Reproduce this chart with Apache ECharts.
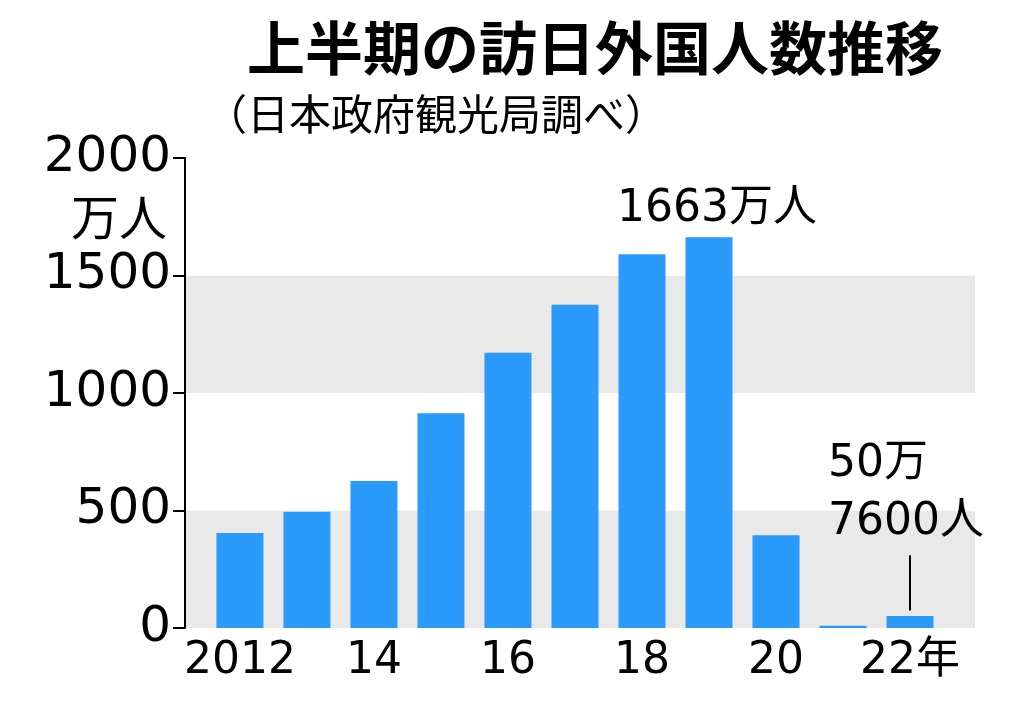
<!DOCTYPE html>
<html>
<head>
<meta charset="utf-8">
<script src="https://cdn.jsdelivr.net/npm/echarts@6/dist/echarts.min.js"></script>
<style>
  html, body { margin: 0; padding: 0; background: #fff; }
  #chart { width: 1024px; height: 714px; }
</style>
</head>
<body>
<div id="chart"></div>
<script>
    var years = [2012, 2013, 2014, 2015, 2016, 2017, 2018, 2019, 2020, 2021, 2022];
    var visitors = [404, 495, 626, 914, 1171, 1376, 1590, 1663, 395, 10, 51];
    var yearTicks = [2012, 2014, 2016, 2018, 2020, 2022];

    var font = '"DejaVu Sans", "Noto Sans CJK JP", sans-serif';
    var cjk = '"Noto Sans CJK JP", sans-serif';

    var chart = echarts.init(document.getElementById('chart'), null, { renderer: 'canvas' });

    var points = years.map(function (y, i) {
        var item = { value: [y, visitors[i]] };
        if (y === 2019) {
            item.label = {
                show: true, position: 'top', distance: 6, offset: [8, 0],
                formatter: '1663万人', fontSize: 44, color: '#000', fontFamily: font
            };
        } else if (y === 2022) {
            item.label = {
                show: true, position: 'top', distance: 64, offset: [8, 0],
                formatter: '{a|50万}\n{a|7600人}', lineHeight: 58,
                rich: { a: { align: 'left', width: 180, fontSize: 44, fontFamily: font, color: '#000', lineHeight: 58 } },
                color: '#000'
            };
        }
        return item;
    });

    var option = {
        animation: false,
        title: [
            { text: '上半期の訪日外国人数推移', left: 590, top: 14, textAlign: 'center',
              textStyle: { fontSize: 58, fontWeight: 'bold', color: '#000', fontFamily: cjk } },
            { text: '（日本政府観光局調べ）', left: 200, top: 88,
              textStyle: { fontSize: 42, fontWeight: 'normal', color: '#000', fontFamily: cjk } },
            { text: '万人', left: 66, top: 188,
              textStyle: { fontSize: 48, fontWeight: 'normal', color: '#000', fontFamily: cjk } }
        ],
        grid: { left: 185, right: 49, top: 158, bottom: 86 },
        xAxis: {
            type: 'value', min: 2011.18, max: 2022.97,
            axisLine: { show: false }, axisTick: { show: false }, splitLine: { show: false },
            axisLabel: {
                customValues: yearTicks, fontSize: 44, color: '#000', fontFamily: font, margin: 12,
                formatter: function (v) {
                    if (v === 2012) return '2012';
                    if (v === 2022) return '22年';
                    return String(v % 100);
                }
            }
        },
        yAxis: {
            type: 'value', min: 0, max: 2000, interval: 500,
            axisLine: { show: true, lineStyle: { color: '#000', width: 2 } },
            axisTick: { show: true, length: 12, lineStyle: { color: '#000', width: 2 } },
            axisLabel: { fontSize: 50, color: '#000', fontFamily: font, margin: 14,
                         formatter: function (v) { return String(v); } },
            splitLine: { show: false },
            splitArea: { show: true, areaStyle: { color: ['#e9e9e9', '#ffffff'] } }
        },
        series: [{
            type: 'bar', barWidth: 47,
            itemStyle: { color: '#2a9bfa' },
            data: points,
            markLine: {
                silent: true, symbol: 'none',
                lineStyle: { color: '#000', width: 2, type: 'solid' },
                label: { show: false },
                data: [[{ coord: [2022, 75] }, { coord: [2022, 310] }]]
            }
        }]
    };

    chart.setOption(option);
</script>
</body>
</html>
